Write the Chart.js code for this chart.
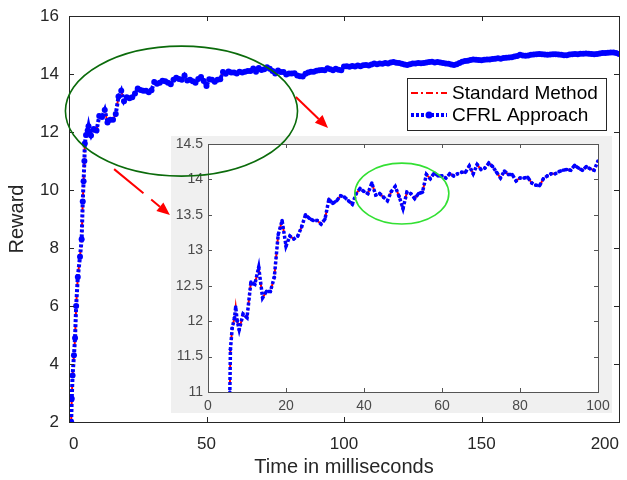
<!DOCTYPE html>
<html>
<head>
<meta charset="utf-8">
<script src="https://cdn.jsdelivr.net/npm/chart.js@4.4.1/dist/chart.umd.min.js"></script>
<style>
  html, body { margin: 0; padding: 0; background: #fff; }
  #wrap { position: relative; width: 627px; height: 480px; }
  #wrap canvas { position: absolute; left: 0; top: 0; }
</style>
</head>
<body>
<div id="wrap">
  <canvas id="main" width="627" height="480"></canvas>
  <canvas id="inset" width="627" height="480"></canvas>
</div>
<script>
// ── Data ─────────────────────────────────────────────────────────────────────

// steep start, read between the first few milliseconds
const rampTime   = [0.8, 1.0, 1.3, 1.8, 2.2, 2.6, 3.2, 4.0, 4.6, 5.0, 5.3, 5.6, 5.75, 6.2, 6.8, 7.1, 7.5];
const rampReward = [2.0, 2.8, 3.6, 4.3, 4.9, 6.0, 7.0, 7.7, 8.3, 9.6, 10.3, 11.0, 11.6, 11.9, 12.05, 12.2, 12.0];

// one sample per millisecond from firstMs to 200
const firstMs = 8;
const reward = [
  // 8–20
  11.88, 12.10, 12.05, 12.55, 12.52, 12.76, 12.33, 12.42, 12.42, 12.62, 13.22, 13.42, 13.06,
  // 21–40
  13.20, 13.16, 13.20, 13.33, 13.50, 13.45, 13.42, 13.42, 13.37, 13.44, 13.72, 13.66, 13.70, 13.77, 13.75, 13.70, 13.65, 13.80, 13.87, 13.83,
  // 41–60
  13.80, 13.95, 13.78, 13.80, 13.75, 13.70, 13.83, 13.90, 13.76, 13.59, 13.82, 13.80, 13.73, 13.80, 13.82, 14.07, 14.01, 14.09, 14.05, 14.05,
  // 61–80
  14.02, 14.08, 14.05, 14.08, 14.10, 14.10, 14.19, 14.08, 14.21, 14.14, 14.16, 14.23, 14.18, 14.10, 14.02, 14.12, 14.07, 14.07, 13.98, 14.02,
  // 81–100
  14.02, 14.03, 13.95, 13.92, 13.91, 14.01, 14.05, 14.08, 14.08, 14.11, 14.13, 14.14, 14.13, 14.20, 14.16, 14.13, 14.18, 14.15, 14.13, 14.26,
  // 101–120
  14.27, 14.25, 14.28, 14.26, 14.29, 14.27, 14.30, 14.31, 14.29, 14.33, 14.36, 14.34, 14.36, 14.35, 14.38, 14.36, 14.40, 14.41, 14.39, 14.38,
  // 121–140
  14.35, 14.33, 14.31, 14.34, 14.36, 14.36, 14.38, 14.37, 14.38, 14.40, 14.41, 14.42, 14.40, 14.41, 14.40, 14.38, 14.36, 14.35, 14.33, 14.31,
  // 141–160
  14.34, 14.38, 14.42, 14.45, 14.46, 14.48, 14.50, 14.49, 14.48, 14.47, 14.49, 14.50, 14.50, 14.52, 14.53, 14.54, 14.53, 14.55, 14.56, 14.57,
  // 161–180
  14.58, 14.60, 14.62, 14.66, 14.64, 14.63, 14.64, 14.66, 14.67, 14.68, 14.69, 14.68, 14.67, 14.66, 14.67, 14.68, 14.68, 14.67, 14.66, 14.65,
  // 181–200
  14.65, 14.67, 14.68, 14.69, 14.68, 14.70, 14.70, 14.71, 14.70, 14.69, 14.68, 14.69, 14.71, 14.72, 14.72, 14.73, 14.74, 14.74, 14.72, 14.69
];

const seriesLabels = ['Standard Method', 'CFRL Approach'];

// axis ticks
const mainXTicks  = [0, 50, 100, 150, 200];
const mainYTicks  = [2, 4, 6, 8, 10, 12, 14, 16];
const insetXTicks = [0, 20, 40, 60, 80, 100];
const insetYTicks = [11, 11.5, 12, 12.5, 13, 13.5, 14, 14.5];

// both methods trace the same curve in the figure (red shows through the blue dots)
const timeMs = rampTime.concat(reward.map((_, i) => firstMs + i));
const rewardAll = rampReward.concat(reward);
const points = timeMs.map((t, i) => ({ x: t, y: rewardAll[i] }));

// ── Styles ───────────────────────────────────────────────────────────────────

const FONT   = "'Liberation Sans', Arial, Helvetica, sans-serif";
const INK    = '#262626';
const RED    = '#ff0000';
const BLUE   = '#0000ff';

// decoration positions, in main-axis / inset-axis data units
const bigEllipse   = { x: 40.9, y: 12.72, rx: 42.2, ry: 2.24 };
const smallEllipse = { x: 49.7, y: 13.80, rx: 12.05, ry: 0.43 };
const arrowRight   = { x1: 82.5, y1: 13.21, x2: 94.2, y2: 12.14, gap: false };
const arrowLeft    = { x1: 16.4, y1: 10.72, x2: 36.7, y2: 9.14, gap: true };

function datasets(big) {
  return [
    {
      label: seriesLabels[0],
      data: points,
      borderColor: RED,
      borderWidth: 2,
      borderDash: [7, 3, 2, 3],
      pointRadius: 0,
      tension: 0,
      order: 2
    },
    {
      label: seriesLabels[1],
      data: points,
      borderColor: BLUE,
      backgroundColor: BLUE,
      borderWidth: big ? 4 : 3.5,
      borderDash: [3, 2],
      borderCapStyle: 'butt',
      pointRadius: big ? 3 : 1.8,
      pointBorderWidth: 0,
      pointBackgroundColor: BLUE,
      tension: 0,
      order: 1
    }
  ];
}

// MATLAB-style box with inward ticks on all four sides
function boxTicks(color, len) {
  return {
    id: 'boxTicks',
    afterDraw(chart) {
      const { ctx, chartArea: a, scales: { x, y } } = chart;
      ctx.save();
      ctx.strokeStyle = color;
      ctx.lineWidth = 1;
      ctx.beginPath();
      x.ticks.forEach(t => {
        const px = Math.round(x.getPixelForValue(t.value)) + 0.5;
        ctx.moveTo(px, a.bottom); ctx.lineTo(px, a.bottom - len);
        ctx.moveTo(px, a.top);    ctx.lineTo(px, a.top + len);
      });
      y.ticks.forEach(t => {
        const py = Math.round(y.getPixelForValue(t.value)) + 0.5;
        ctx.moveTo(a.left, py);  ctx.lineTo(a.left + len, py);
        ctx.moveTo(a.right, py); ctx.lineTo(a.right - len, py);
      });
      ctx.stroke();
      ctx.strokeRect(Math.round(a.left) + 0.5, Math.round(a.top) + 0.5,
                     Math.round(a.right - a.left), Math.round(a.bottom - a.top));
      ctx.restore();
    }
  };
}

// legend box inside the main axes, top right
const boxLegend = {
  id: 'boxLegend',
  afterDraw(chart) {
    const { ctx, chartArea: a } = chart;
    const w = 199, h = 52;
    const x0 = a.right - 13 - w, y0 = a.top + 62;
    ctx.save();
    ctx.fillStyle = '#fff';
    ctx.fillRect(x0, y0, w, h);
    ctx.strokeStyle = INK;
    ctx.lineWidth = 1;
    ctx.strokeRect(x0 + 0.5, y0 + 0.5, w, h);

    chart.data.datasets.forEach((ds, i) => {
      const yy = y0 + 15 + i * 22;
      const sx = x0 + 4, ex = x0 + 40;
      ctx.save();
      ctx.strokeStyle = ds.borderColor;
      ctx.lineWidth = ds.borderWidth;
      ctx.setLineDash(ds.borderDash);
      ctx.lineCap = 'butt';
      ctx.beginPath();
      ctx.moveTo(sx, yy); ctx.lineTo(ex, yy);
      ctx.stroke();
      if (ds.pointRadius) {
        ctx.fillStyle = ds.borderColor;
        ctx.beginPath();
        ctx.arc((sx + ex) / 2, yy, 3.5, 0, Math.PI * 2);
        ctx.fill();
      }
      ctx.restore();
      ctx.fillStyle = '#000';
      ctx.font = '19px ' + FONT;
      ctx.textBaseline = 'middle';
      ctx.fillText(ds.label, x0 + 45, yy + 1);
    });
    ctx.restore();
  }
};

const NO_GRID = { display: false, drawTicks: false };

// ── Main chart ───────────────────────────────────────────────────────────────

const mainChart = new Chart(document.getElementById('main'), {
  type: 'line',
  data: { datasets: datasets(true) },
  options: {
    responsive: false,
    animation: false,
    events: [],
    layout: { padding: { top: 16, right: 8, left: 0, bottom: 0 } },
    scales: {
      x: {
        type: 'linear',
        min: 0,
        max: 200,
        afterBuildTicks: s => { s.ticks = mainXTicks.map(v => ({ value: v })); },
        afterFit: s => { s.height = 58; s.paddingLeft = 0; s.paddingRight = 0; },
        ticks: { color: INK, font: { family: FONT, size: 17 }, padding: 12, maxRotation: 0, align: 'inner' },
        grid: NO_GRID,
        border: { display: false },
        title: {
          display: true, text: 'Time in milliseconds', color: INK,
          font: { family: FONT, size: 20 }, padding: { top: 0, bottom: 1 }
        }
      },
      y: {
        min: 2,
        max: 16,
        afterBuildTicks: s => { s.ticks = mainYTicks.map(v => ({ value: v })); },
        afterFit: s => { s.width = 69; s.paddingTop = 0; s.paddingBottom = 0; },
        ticks: { color: INK, font: { family: FONT, size: 17 }, padding: 10 },
        grid: NO_GRID,
        border: { display: false },
        title: {
          display: true, text: 'Reward', color: INK,
          font: { family: FONT, size: 20 }, padding: { top: 5, bottom: 0 }
        }
      }
    },
    plugins: { legend: { display: false }, tooltip: { enabled: false } }
  },
  plugins: [boxTicks(INK, 5), boxLegend]
});

// ── Inset (zoom on the first 100 ms) ─────────────────────────────────────────

const insetFrame = {
  id: 'insetFrame',
  beforeDraw(chart) {
    const { ctx, chartArea: a } = chart;
    ctx.save();
    ctx.fillStyle = '#f0f0f0';
    ctx.fillRect(a.left - 37, a.top - 8, (a.right + 14) - (a.left - 37), (a.bottom + 21) - (a.top - 8));
    ctx.fillStyle = '#fff';
    ctx.fillRect(a.left, a.top, a.right - a.left, a.bottom - a.top);
    ctx.restore();
  }
};

function drawEllipse(ctx, xs, ys, e, color, width) {
  const cx = xs.getPixelForValue(e.x), cy = ys.getPixelForValue(e.y);
  const rx = Math.abs(xs.getPixelForValue(e.x + e.rx) - cx);
  const ry = Math.abs(ys.getPixelForValue(e.y + e.ry) - cy);
  ctx.save();
  ctx.strokeStyle = color;
  ctx.lineWidth = width;
  ctx.beginPath();
  ctx.ellipse(cx, cy, rx, ry, 0, 0, Math.PI * 2);
  ctx.stroke();
  ctx.restore();
}

function drawArrow(ctx, xs, ys, ar) {
  const x1 = xs.getPixelForValue(ar.x1), y1 = ys.getPixelForValue(ar.y1);
  const x2 = xs.getPixelForValue(ar.x2), y2 = ys.getPixelForValue(ar.y2);
  const ang = Math.atan2(y2 - y1, x2 - x1);
  const head = 13, half = 5.5;
  const bx = x2 - head * Math.cos(ang), by = y2 - head * Math.sin(ang);
  ctx.save();
  ctx.strokeStyle = RED;
  ctx.fillStyle = RED;
  ctx.lineWidth = 2;
  if (ar.gap) ctx.setLineDash([38, 10, 200]);
  ctx.beginPath();
  ctx.moveTo(x1, y1); ctx.lineTo(bx, by);
  ctx.stroke();
  ctx.setLineDash([]);
  ctx.beginPath();
  ctx.moveTo(x2, y2);
  ctx.lineTo(bx + half * Math.sin(ang), by - half * Math.cos(ang));
  ctx.lineTo(bx - half * Math.sin(ang), by + half * Math.cos(ang));
  ctx.closePath();
  ctx.fill();
  ctx.restore();
}

// ellipses and arrows sit on top of both axes
const callouts = {
  id: 'callouts',
  afterDraw(chart) {
    const ctx = chart.ctx;
    const mx = mainChart.scales.x, my = mainChart.scales.y;
    drawEllipse(ctx, chart.scales.x, chart.scales.y, smallEllipse, '#33e033', 1.6);
    drawEllipse(ctx, mx, my, bigEllipse, '#0b6b0b', 1.6);
    drawArrow(ctx, mx, my, arrowRight);
    drawArrow(ctx, mx, my, arrowLeft);
  }
};

const INSET_INK = '#4a4a4a';

new Chart(document.getElementById('inset'), {
  type: 'line',
  data: { datasets: datasets(false) },
  options: {
    responsive: false,
    animation: false,
    events: [],
    layout: { padding: { top: 144, right: 29, left: 171, bottom: 0 } },
    scales: {
      x: {
        type: 'linear',
        min: 0,
        max: 100,
        afterBuildTicks: s => { s.ticks = insetXTicks.map(v => ({ value: v })); },
        afterFit: s => { s.height = 88; s.paddingLeft = 0; s.paddingRight = 0; },
        ticks: { color: INSET_INK, font: { family: FONT, size: 14 }, padding: 6, maxRotation: 0 },
        grid: NO_GRID,
        border: { display: false }
      },
      y: {
        min: 11,
        max: 14.5,
        afterBuildTicks: s => { s.ticks = insetYTicks.map(v => ({ value: v })); },
        afterFit: s => { s.width = 37; s.paddingTop = 0; s.paddingBottom = 0; },
        ticks: { color: INSET_INK, font: { family: FONT, size: 14 }, padding: 5, callback: v => String(v) },
        grid: NO_GRID,
        border: { display: false }
      }
    },
    plugins: { legend: { display: false }, tooltip: { enabled: false } }
  },
  plugins: [insetFrame, boxTicks('#555555', 4), callouts]
});
</script>
</body>
</html>
